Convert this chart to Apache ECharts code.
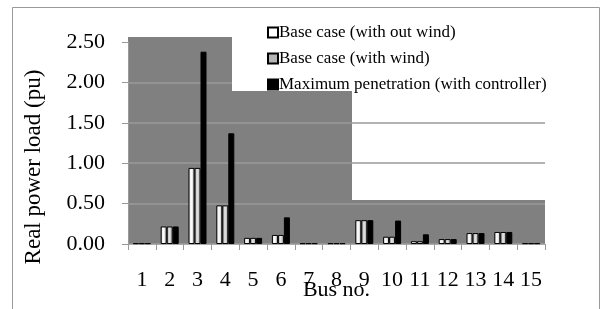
<!DOCTYPE html>
<html>
<head>
<meta charset="utf-8">
<script src="https://cdn.jsdelivr.net/npm/echarts@6/dist/echarts.min.js"></script>
<style>
  html, body { margin: 0; padding: 0; background: #fff; }
  #chart { width: 601px; height: 309px; }
</style>
</head>
<body>
<div id="chart"></div>
<script>
// 数据
var busNames = ['1','2','3','4','5','6','7','8','9','10','11','12','13','14','15'];
var baseNoWind = [0.01,0.217,0.942,0.478,0.076,0.112,0.01,0.01,0.295,0.09,0.035,0.061,0.135,0.149,0.01];
var baseWind   = [0.01,0.217,0.942,0.478,0.076,0.112,0.01,0.01,0.295,0.09,0.035,0.061,0.135,0.149,0.01];
var maxPen     = [0.01,0.217,2.38,1.37,0.076,0.33,0.01,0.01,0.295,0.29,0.12,0.061,0.135,0.149,0.01];
var legendNames = ['Base case (with out wind)','Base case (with wind)','Maximum penetration (with controller)'];

var font = '"Liberation Serif", "Times New Roman", serif';

var myChart = echarts.init(document.getElementById('chart'));

function barStyle(c1, c2, c3){
  return {
    color: new echarts.graphic.LinearGradient(0, 0, 1, 0, [
      { offset: 0, color: c1 },
      { offset: 0.45, color: c2 },
      { offset: 1, color: c3 }
    ]),
    borderColor: '#000',
    borderWidth: 1
  };
}

myChart.setOption({
  animation: false,
  textStyle: { fontFamily: font },
  grid: { left: 128, right: 56, top: 42, bottom: 65, outerBoundsMode: 'none', containLabel: false },
  legend: {
    orient: 'vertical',
    left: 262,
    top: 19,
    itemWidth: 10,
    itemHeight: 10,
    itemGap: 9,
    icon: 'rect',
    textStyle: { fontFamily: font, fontSize: 17, color: '#000', padding: [0, 0, 0, -4] },
    data: [
      { name: legendNames[0], itemStyle: { color: '#fff', borderColor: '#000', borderWidth: 2 } },
      { name: legendNames[1], itemStyle: { color: '#b4b4b4', borderColor: '#000', borderWidth: 2 } },
      { name: legendNames[2], itemStyle: { color: '#000', borderColor: '#000', borderWidth: 2 } }
    ]
  },
  graphic: [
    // 外框
    { type: 'rect', z: -5, shape: { x: 12.5, y: 7.5, width: 587, height: 310 },
      style: { fill: '#fff', stroke: '#999', lineWidth: 1 } },
    // 灰色背景
    { type: 'rect', z: -1, shape: { x: 128, y: 37, width: 224, height: 207 },
      style: { fill: '#808080' } },
    { type: 'rect', z: -1, shape: { x: 352, y: 200, width: 193, height: 44 },
      style: { fill: '#808080' } },
    // 图例白底
    { type: 'rect', z: 1, shape: { x: 232, y: 8, width: 367, height: 83 },
      style: { fill: '#fff' } }
  ],
  xAxis: {
    type: 'category',
    data: busNames,
    name: 'Bus no.',
    nameLocation: 'middle',
    nameGap: 35,
    nameMoveOverlap: false,
    nameTextStyle: { fontFamily: font, fontSize: 22, color: '#000' },
    axisLine: { lineStyle: { color: '#aaa', width: 1 } },
    axisTick: { show: true, length: 6, lineStyle: { color: '#999' } },
    axisLabel: { color: '#000', fontSize: 22, margin: 25, fontFamily: font, interval: 0 }
  },
  yAxis: {
    type: 'value',
    min: 0,
    max: 2.5,
    interval: 0.5,
    name: 'Real power load (pu)',
    nameLocation: 'middle',
    nameGap: 83,
    nameMoveOverlap: false,
    nameTextStyle: { fontFamily: font, fontSize: 23, color: '#000', padding: [0, 48, 0, 0] },
    axisLine: { show: true, lineStyle: { color: '#999' } },
    axisTick: { show: true, length: 6, lineStyle: { color: '#999' } },
    axisLabel: {
      color: '#000', fontSize: 22, margin: 23, fontFamily: font,
      formatter: function (v) { return v.toFixed(2); }
    },
    splitLine: { show: true, showMaxLine: false, lineStyle: { color: '#9a9a9a', width: 1.5 } }
  },
  series: [
    {
      name: legendNames[0], type: 'bar', data: baseNoWind,
      itemStyle: barStyle('#d8d8d8', '#ffffff', '#bdbdbd'),
      barWidth: 6, barGap: 0, z: 3
    },
    {
      name: legendNames[1], type: 'bar', data: baseWind,
      itemStyle: barStyle('#9a9a9a', '#e6e6e6', '#a0a0a0'),
      barWidth: 6, barGap: 0, z: 3
    },
    {
      name: legendNames[2], type: 'bar', data: maxPen,
      itemStyle: { color: '#000', borderColor: '#000', borderWidth: 1 },
      barWidth: 6, barGap: 0, z: 3
    }
  ]
});
</script>
</body>
</html>
